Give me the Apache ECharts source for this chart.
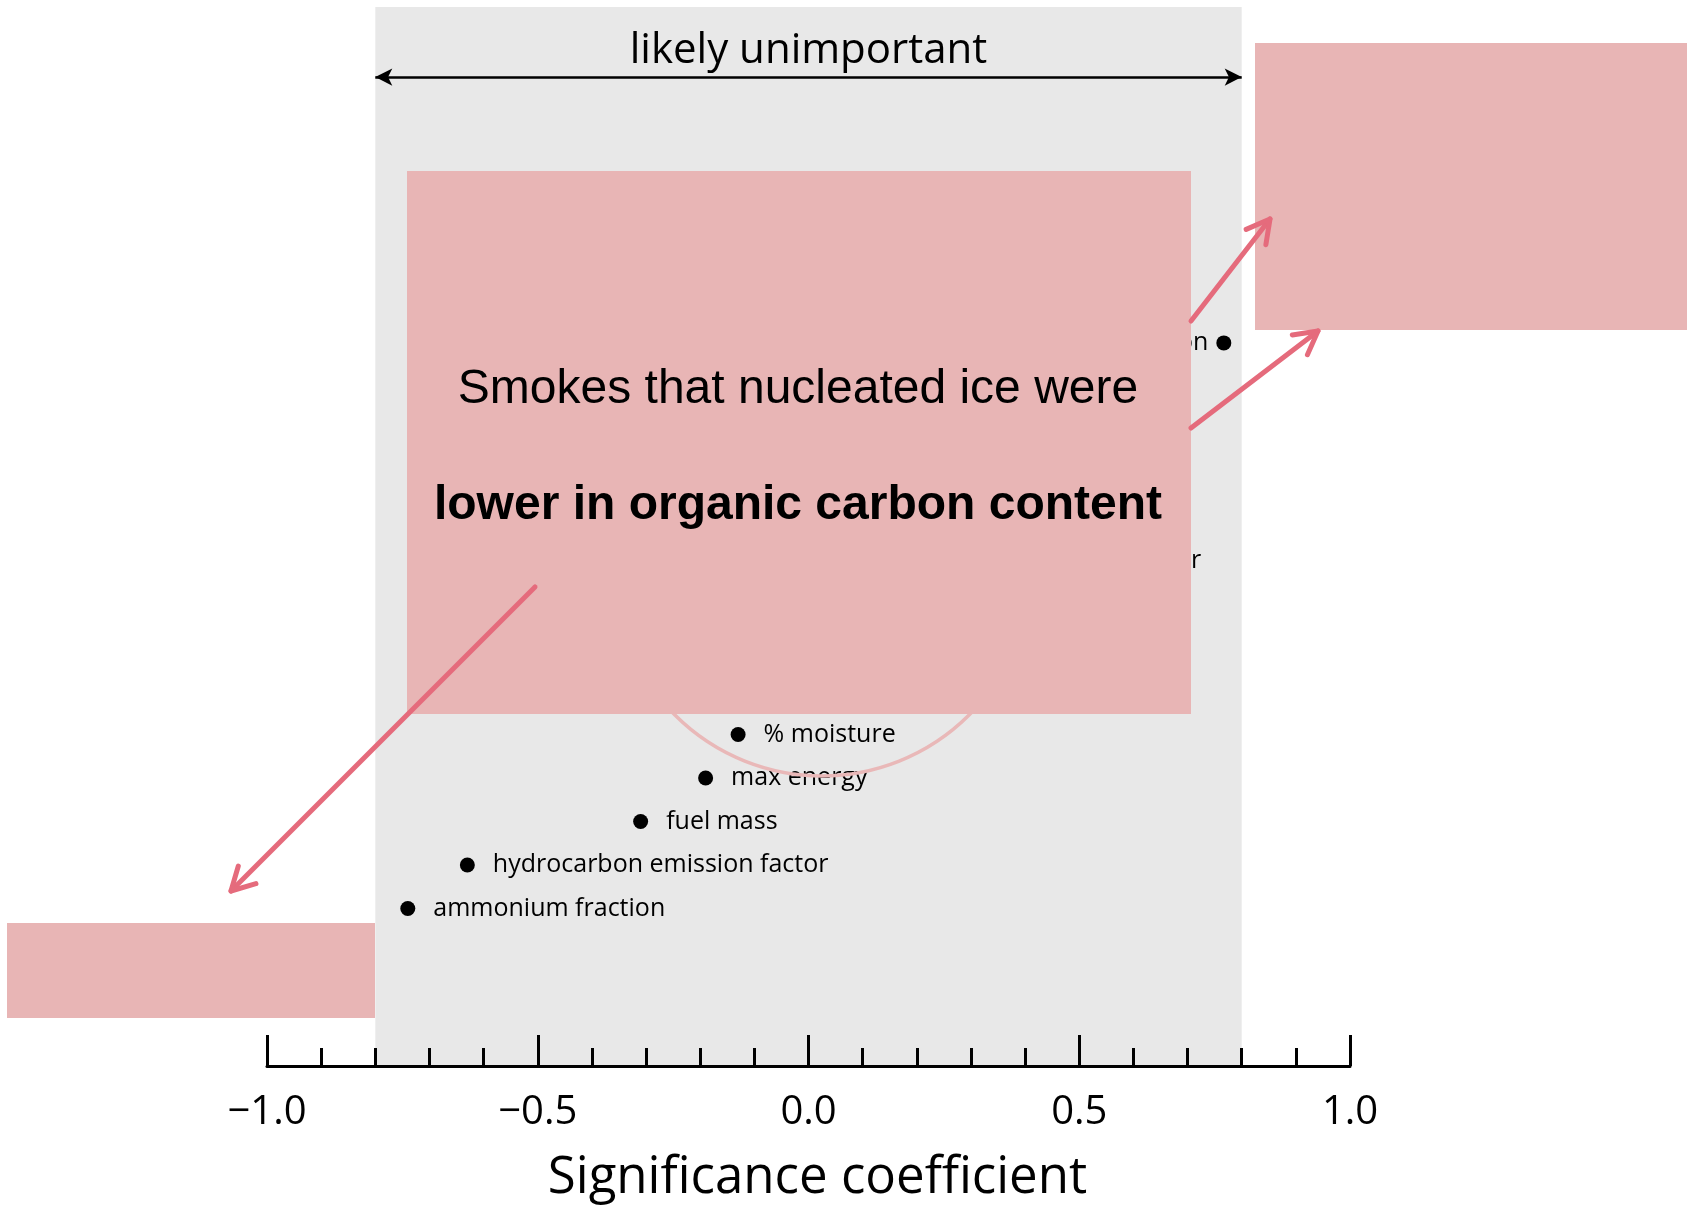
<!DOCTYPE html>
<html>
<head>
<meta charset="utf-8">
<script src="https://cdn.jsdelivr.net/npm/echarts@6/dist/echarts.min.js"></script>
<style>
  html, body { margin: 0; padding: 0; background: #fff; }
  #chart { width: 1694px; height: 1211px; }
</style>
</head>
<body>
<div id="chart"></div>
<script>
// factors, the row each one sits on, and its significance coefficient
const factorLabels = [
  "organic carbon fraction",
  "sulfate emission factor",
  "% moisture",
  "max energy",
  "fuel mass",
  "hydrocarbon emission factor",
  "ammonium fraction",
];
const factorRows = [0, 5, 9, 10, 11, 12, 13];
const coefficients = [0.767, 0.19, -0.13, -0.19, -0.31, -0.63, -0.74];

const xMin = -1.0;
const xMax = 1.0;
const unimportantRange = [-0.8, 0.8];
const bandTitle = "likely unimportant";
const axisTitle = "Significance coefficient";
const noteLines = ["Smokes that nucleated ice were", "lower in organic carbon content"];

const pink = "#e8b5b5";
const arrowRed = "#e56b7c";
const font = "'Open Sans', 'Noto Sans', sans-serif";

const chart = echarts.init(document.getElementById("chart"));

function arrow(x1, y1, x2, y2) {
  const ang = Math.atan2(y2 - y1, x2 - x1);
  const len = 26, spread = 0.5;
  const a1 = [x2 - len * Math.cos(ang - spread), y2 - len * Math.sin(ang - spread)];
  const a2 = [x2 - len * Math.cos(ang + spread), y2 - len * Math.sin(ang + spread)];
  const style = { stroke: arrowRed, lineWidth: 5, lineCap: "round", lineJoin: "round", fill: null };
  return [
    { type: "line", z: 130, shape: { x1, y1, x2, y2 }, style },
    { type: "polyline", z: 130, shape: { points: [a1, [x2, y2], a2] }, style },
  ];
}

const points = coefficients.map((c, i) => ({
  value: [c, factorRows[i]],
  label: i === 0 ? { position: "left", distance: 8 } : { position: "right", distance: 18 },
}));

chart.setOption({
  animation: false,
  grid: { left: 267, right: 344, top: 7, bottom: 145 },
  xAxis: {
    type: "value",
    z: 5,
    min: xMin,
    max: xMax,
    interval: 0.5,
    name: axisTitle,
    nameLocation: "middle",
    nameGap: 87,
    nameTextStyle: { fontFamily: font, fontSize: 51, color: "#000", lineHeight: 51, padding: [0, 0, 0, 18] },
    axisLine: { onZero: false, lineStyle: { color: "#000", width: 3 } },
    axisTick: { inside: true, length: 31, lineStyle: { color: "#000", width: 3 } },
    minorTick: { show: true, splitNumber: 5, length: 18, lineStyle: { color: "#000", width: 3 } },
    splitLine: { show: false },
    axisLabel: {
      margin: 27,
      fontFamily: font,
      fontSize: 40,
      lineHeight: 40,
      color: "#000",
      formatter: (v) => v.toFixed(1).replace("-", "\u2212"),
    },
  },
  yAxis: { type: "value", inverse: true, min: -7.72, max: 16.62, show: false },
  series: [
    {
      type: "scatter",
      symbolSize: 15,
      itemStyle: { color: "#000", opacity: 1 },
      label: {
        show: true,
        formatter: (p) => factorLabels[p.dataIndex],
        fontFamily: font,
        fontSize: 25,
        color: "#000",
      },
      data: points,
      markArea: {
        silent: true,
        itemStyle: { color: "#e8e8e8" },
        data: [[{ xAxis: unimportantRange[0] }, { xAxis: unimportantRange[1] }]],
      },
      markLine: {
        silent: true,
        symbol: ["arrow", "arrow"],
        symbolSize: [13, 17],
        lineStyle: { color: "#000", width: 2.5, type: "solid" },
        label: {
          show: true,
          position: "insideMiddleTop",
          distance: 5,
          formatter: bandTitle,
          fontFamily: font,
          fontSize: 42,
          color: "#000",
        },
        data: [[{ coord: [unimportantRange[0], -6.11] }, { coord: [unimportantRange[1], -6.11] }]],
      },
    },
  ],
  graphic: [
    { type: "circle", z: 100, shape: { cx: 822, cy: 568, r: 208 }, style: { fill: null, stroke: "#e9b8b8", lineWidth: 3.5 } },
    { type: "rect", z: 110, shape: { x: 407, y: 171, width: 784, height: 543 }, style: { fill: pink } },
    { type: "rect", z: 110, shape: { x: 1255, y: 43, width: 432, height: 287 }, style: { fill: pink } },
    { type: "rect", z: 110, shape: { x: 7, y: 923, width: 368, height: 95 }, style: { fill: pink } },
    ...arrow(535, 587, 231, 891),
    ...arrow(1191, 321, 1270, 219),
    ...arrow(1191, 428, 1318, 331),
    {
      type: "text", z: 140, x: 798, y: 390,
      style: { text: noteLines[0], fill: "#000", font: "48px 'Liberation Sans', Arial, sans-serif", textAlign: "center", textVerticalAlign: "middle" },
    },
    {
      type: "text", z: 140, x: 798, y: 506,
      style: { text: noteLines[1], fill: "#000", font: "bold 48px 'Liberation Sans', Arial, sans-serif", textAlign: "center", textVerticalAlign: "middle" },
    },
  ],
});
</script>
</body>
</html>
